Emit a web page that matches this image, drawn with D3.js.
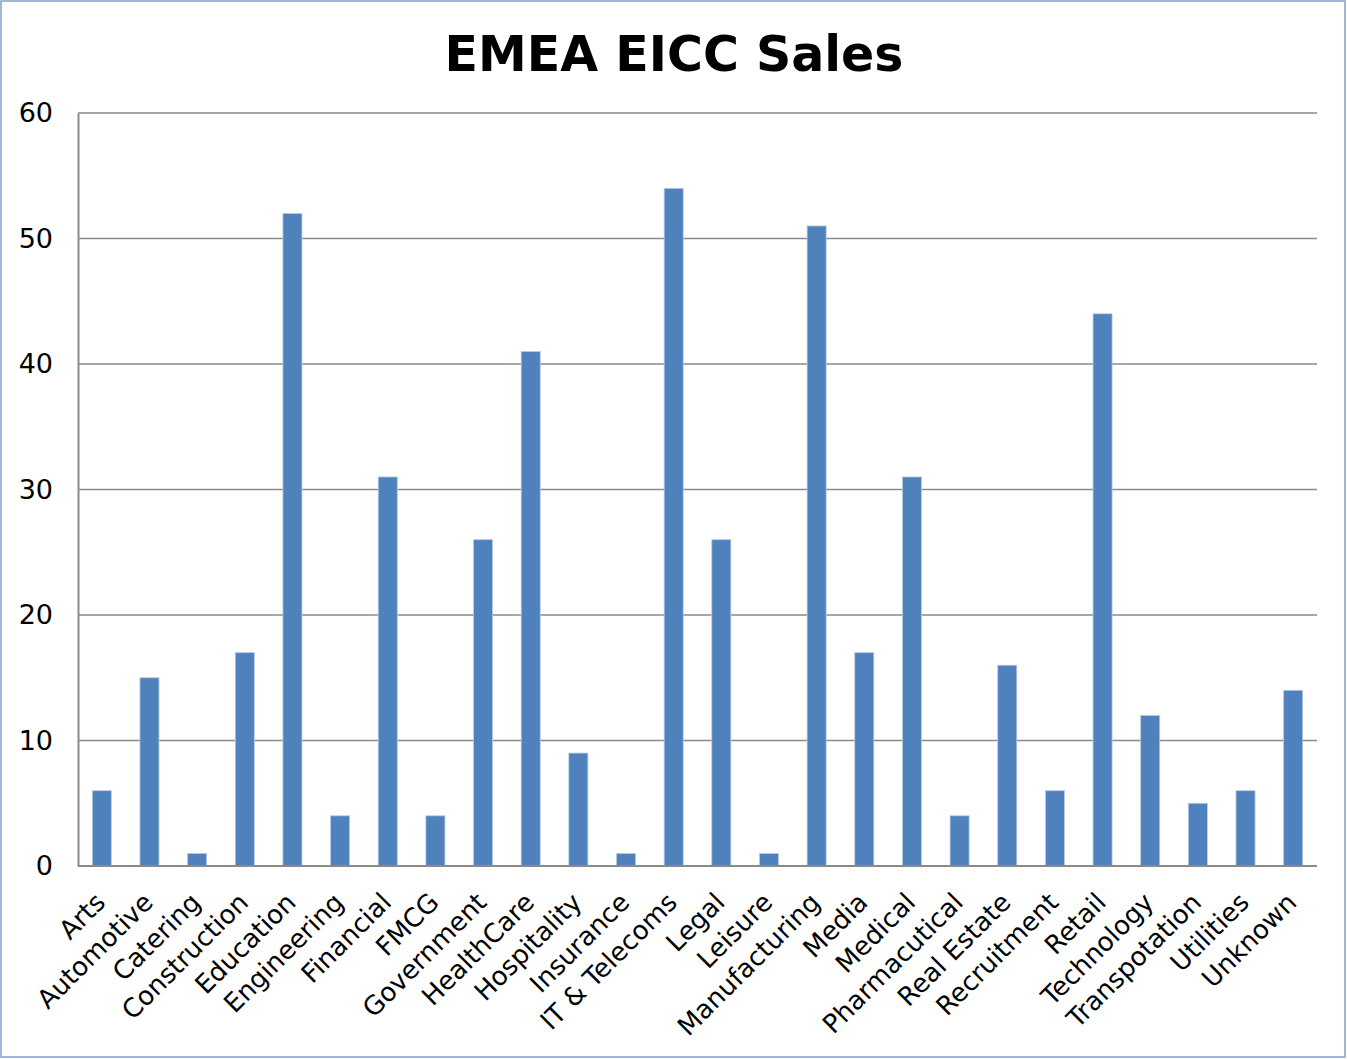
<!DOCTYPE html>
<html>
<head>
<meta charset="utf-8">
<script src="https://cdn.jsdelivr.net/npm/d3@7/dist/d3.min.js"></script>
<style>
  html, body { margin: 0; padding: 0; background: #fff; }
  svg { display: block; }
</style>
</head>
<body>
<svg id="chart" width="1347" height="1059"></svg>
<script>
// Sales counts per industry sector
const categories = ["Arts", "Automotive", "Catering", "Construction", "Education", "Engineering",
  "Financial", "FMCG", "Government", "HealthCare", "Hospitality", "Insurance", "IT & Telecoms",
  "Legal", "Leisure", "Manufacturing", "Media", "Medical", "Pharmacutical", "Real Estate",
  "Recruitment", "Retail", "Technology", "Transpotation", "Utilities", "Unknown"];
const sales = [6, 15, 1, 17, 52, 4, 31, 4, 26, 41, 9, 1, 54, 26, 1, 51, 17, 31, 4, 16, 6, 44, 12, 5, 6, 14];
const yTicks = [0, 10, 20, 30, 40, 50, 60];
const chartTitle = "EMEA EICC Sales";

const font = "Verdana, 'DejaVu Sans', sans-serif";
const svg = d3.select("#chart");
const W = 1347, H = 1059;
const plot = { left: 78, right: 1317, top: 113, bottom: 866 };

// outer frame
svg.append("rect")
  .attr("x", 1).attr("y", 1).attr("width", W - 3).attr("height", H - 3)
  .attr("fill", "#fff").attr("stroke", "#7f9fce").attr("stroke-width", 1.5);

svg.append("text")
  .attr("x", 674).attr("y", 71)
  .attr("text-anchor", "middle")
  .attr("font-family", font).attr("font-weight", "bold").attr("font-size", 49)
  .attr("fill", "#000")
  .text(chartTitle);

const x = d3.scaleBand().domain(categories).range([plot.left, plot.right]).paddingInner(0.6).paddingOuter(0.3);
const y = d3.scaleLinear().domain([0, 60]).range([plot.bottom, plot.top]);

// horizontal gridlines
svg.append("g").selectAll("line").data(yTicks.filter(d => d > 0)).join("line")
  .attr("x1", plot.left).attr("x2", plot.right)
  .attr("y1", d => y(d)).attr("y2", d => y(d))
  .attr("stroke", "#8a8a8a").attr("stroke-width", 1.5);

// bars
svg.append("g").selectAll("rect").data(categories).join("rect")
  .attr("x", d => x(d))
  .attr("width", x.bandwidth())
  .attr("y", (d, i) => y(sales[i]))
  .attr("height", (d, i) => plot.bottom - y(sales[i]))
  .attr("fill", "#4f81bd")
  .attr("stroke", "#b9cde5").attr("stroke-width", 0.8);

// y axis
const yAxis = svg.append("g").attr("transform", `translate(${plot.left},0)`)
  .call(d3.axisLeft(y).tickValues(yTicks).tickSize(0).tickPadding(25));
yAxis.select(".domain").attr("stroke", "#8a8a8a").attr("stroke-width", 2);
yAxis.selectAll("text").attr("font-family", font).attr("font-size", 27).attr("fill", "#000");

// x axis
const xAxis = svg.append("g").attr("transform", `translate(0,${plot.bottom})`)
  .call(d3.axisBottom(x).tickSize(0).tickSizeOuter(0));
xAxis.select(".domain").attr("stroke", "#8a8a8a").attr("stroke-width", 2)
  .attr("d", `M${plot.left},0H${plot.right}`);
xAxis.selectAll("text")
  .attr("font-family", font).attr("font-size", 26).attr("fill", "#000")
  .attr("text-anchor", "end")
  .attr("dy", "0.7em")
  .attr("transform", "translate(-10,23) rotate(-45)");
</script>
</body>
</html>
